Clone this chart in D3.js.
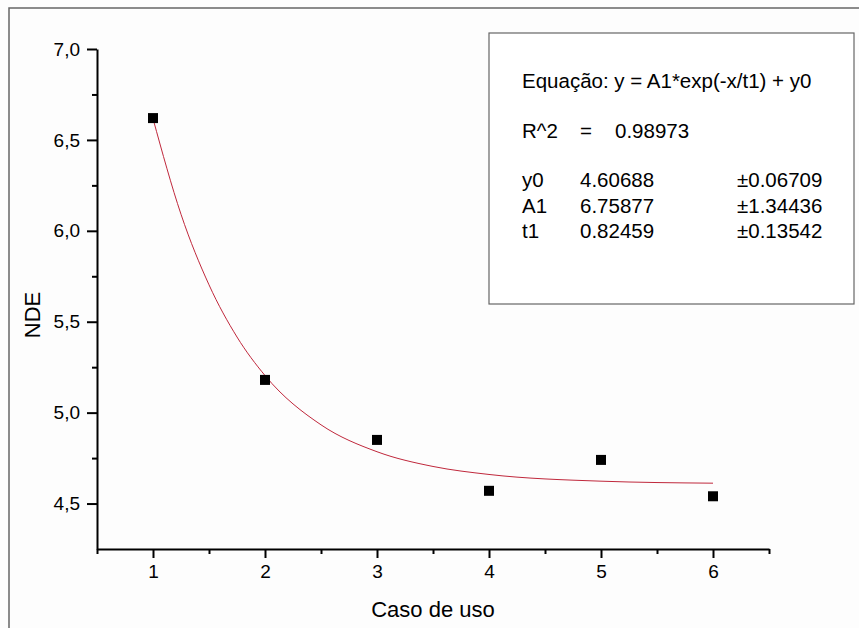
<!DOCTYPE html>
<html>
<head>
<meta charset="utf-8">
<script src="https://cdn.jsdelivr.net/npm/d3@7"></script>
<style>
  body { margin: 0; background: #fff; }
  svg { display: block; font-family: Arial, "Liberation Sans", sans-serif; }
  .axis path, .axis line { stroke: #000; stroke-width: 2; }
  .axis text { font-size: 19px; fill: #000; }
</style>
</head>
<body>
<script>
// data points (caso de uso vs NDE)
var casos = [1, 2, 3, 4, 5, 6];
var nde = [6.62, 5.18, 4.85, 4.57, 4.74, 4.54];

// fitted curve
var fitX = [1, 1.25, 1.5, 1.75, 2, 2.5, 3, 3.5, 4, 5, 6];
var fitY = [6.617, 6.091, 5.703, 5.416, 5.204, 4.933, 4.785, 4.704, 4.660, 4.623, 4.612];

var xTicks = [1, 2, 3, 4, 5, 6];
var xMinor = [0.5, 1.5, 2.5, 3.5, 4.5, 5.5, 6.5];
var yTicks = [4.5, 5.0, 5.5, 6.0, 6.5, 7.0];
var yMinor = [4.75, 5.25, 5.75, 6.25, 6.75];

var legendLines = [
  ["Equação: y = A1*exp(-x/t1) + y0", "", "", ""],
  ["R^2", "=", "0.98973", ""],
  ["y0", "4.60688", "", "±0.06709"],
  ["A1", "6.75877", "", "±1.34436"],
  ["t1", "0.82459", "", "±0.13542"]
];

var W = 859, H = 628;
var x = d3.scaleLinear().domain([0.5, 6.5]).range([97, 769]);
var y = d3.scaleLinear().domain([4.25, 7.0]).range([549, 49]);

var svg = d3.select("body").append("svg")
    .attr("width", W)
    .attr("height", H);

svg.append("rect").attr("width", W).attr("height", H).attr("fill", "#fdfdfd");

// outer frame (clipped by page on right/bottom)
svg.append("rect")
    .attr("x", 9).attr("y", 8)
    .attr("width", 900).attr("height", 700)
    .attr("fill", "none")
    .attr("stroke", "#666")
    .attr("stroke-width", 1.5);

var fmt = function(d) { return d3.format(".1f")(d).replace(".", ","); };

// minor ticks
svg.append("g")
    .attr("class", "axis")
    .attr("transform", "translate(0,549)")
    .call(d3.axisBottom(x).tickValues(xMinor).tickSize(5).tickFormat(""))
    .select(".domain").remove();
svg.append("g")
    .attr("class", "axis")
    .attr("transform", "translate(97,0)")
    .call(d3.axisLeft(y).tickValues(yMinor).tickSize(5).tickFormat(""))
    .select(".domain").remove();

// major axes
svg.append("g")
    .attr("class", "axis")
    .attr("transform", "translate(0,549)")
    .call(d3.axisBottom(x).tickValues(xTicks).tickSize(9).tickSizeOuter(0).tickPadding(7).tickFormat(d3.format("d")));
svg.append("g")
    .attr("class", "axis")
    .attr("transform", "translate(97,0)")
    .call(d3.axisLeft(y).tickValues(yTicks).tickSize(10).tickSizeOuter(0).tickPadding(7).tickFormat(fmt));

// axis titles
svg.append("text")
    .attr("x", 433).attr("y", 617)
    .attr("text-anchor", "middle")
    .style("font-size", "22px")
    .text("Caso de uso");
svg.append("text")
    .attr("transform", "translate(40,315) rotate(-90)")
    .attr("text-anchor", "middle")
    .style("font-size", "22px")
    .text("NDE");

// fit curve
var fitData = fitX.map(function(d, i) { return {x: d, y: fitY[i]}; });
var line = d3.line()
    .x(function(d) { return x(d.x); })
    .y(function(d) { return y(d.y); })
    .curve(d3.curveMonotoneX);
svg.append("path")
    .datum(fitData)
    .attr("fill", "none")
    .attr("stroke", "#c0283c")
    .attr("stroke-width", 1)
    .attr("d", line);

// points
var pts = casos.map(function(d, i) { return {x: d, y: nde[i]}; });
svg.selectAll(".pt")
    .data(pts)
    .enter().append("rect")
    .attr("class", "pt")
    .attr("x", function(d) { return x(d.x) - 5; })
    .attr("y", function(d) { return y(d.y) - 5; })
    .attr("width", 10)
    .attr("height", 10)
    .attr("fill", "#000");

// legend box
svg.append("rect")
    .attr("x", 489).attr("y", 33)
    .attr("width", 365).attr("height", 271)
    .attr("fill", "#fff")
    .attr("stroke", "#666")
    .attr("stroke-width", 1.2);

var rowY = [88, 138, 187, 213, 238];
var colX = [522, 580, 615, 737];
var lg = svg.append("g").style("font-size", "20.5px");
legendLines.forEach(function(row, i) {
  row.forEach(function(t, j) {
    if (!t) return;
    lg.append("text")
      .attr("x", colX[j])
      .attr("y", rowY[i])
      .text(t);
  });
});
</script>
</body>
</html>
